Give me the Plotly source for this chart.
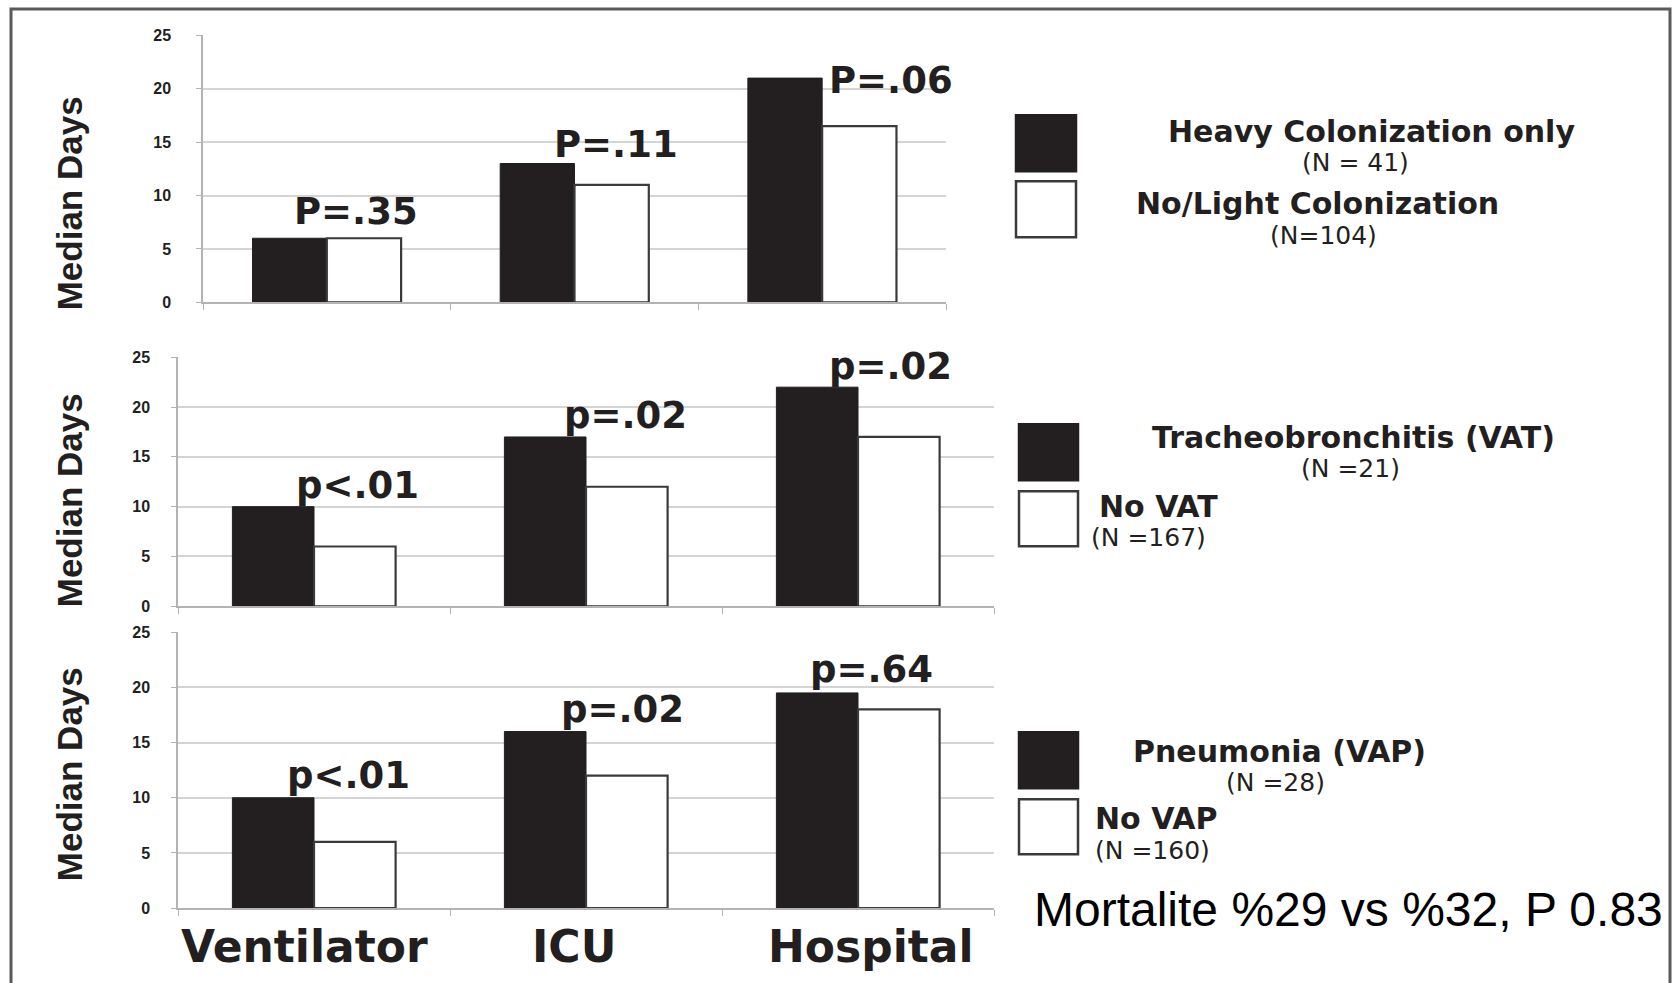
import plotly.graph_objects as go

W, H = 1673, 983

# ---- data -------------------------------------------------------------
categories = ["Ventilator", "ICU", "Hospital"]
y_ticks = [0, 5, 10, 15, 20, 25]

heavy_colonization = [6, 13, 21]
light_colonization = [6, 11, 16.5]
p_colonization = ["P=.35", "P=.11", "P=.06"]

vat = [10, 17, 22]
no_vat = [6, 12, 17]
p_vat = ["p<.01", "p=.02", "p=.02"]

vap = [10, 16, 19.5]
no_vap = [6, 12, 18]
p_vap = ["p<.01", "p=.02", "p=.64"]

legend_colonization = [("Heavy Colonization only", "(N = 41)"),
                       ("No/Light Colonization", "(N=104)")]
legend_vat = [("Tracheobronchitis (VAT)", "(N =21)"), ("No VAT", "(N =167)")]
legend_vap = [("Pneumonia (VAP)", "(N =28)"), ("No VAP", "(N =160)")]

mortality_note = "Mortalite %29 vs %32, P 0.83"
y_title = "Median Days"

# ---- styling ----------------------------------------------------------
DARK = "#231f20"
OUTLINE = "#3a3a3a"
GRID = "#d4d4d4"
AXIS = "#b3b3b3"
BOLD = "DejaVu Sans"
ARIAL = "Liberation Sans, Arial, sans-serif"

# the page is drawn with a small top offset and slight vertical squeeze;
# these two numbers convert a wanted screen row into paper coordinates
Y_OFFSET, Y_SCALE = 7.6, 0.983


def px(x):
    return x / W


def py(y):
    return 1 - (y - Y_OFFSET) / (Y_SCALE * H)


# pixel layout of each panel: plot box, p-label offsets, legend geometry
panels = [
    dict(dark=heavy_colonization, light=light_colonization, p=p_colonization,
         legend=legend_colonization,
         x0=203, x1=946, ytop=35, ybot=302, standoff=22, title_y=203,
         pshift=[(29, 27), (41, 19), (69, -2)],
         boxes=[(1016, 115, 1076, 171), (1016, 181, 1076, 237)],
         texts=[[(1371, 131, "center"), (1355, 162, "center")],
                [(1317, 203, "center"), (1323, 235, "center")]]),
    dict(dark=vat, light=no_vat, p=p_vat, legend=legend_vat,
         x0=178, x1=994, ytop=357, ybot=606, standoff=18, title_y=500,
         pshift=[(43, 21), (39, 21), (32, 21)],
         boxes=[(1019, 424, 1078, 480), (1019, 491, 1078, 546)],
         texts=[[(1353, 437, "center"), (1350, 468, "center")],
                [(1097, 506, "left"), (1089, 537, "left")]]),
    dict(dark=vap, light=no_vap, p=p_vap, legend=legend_vap,
         x0=178, x1=994, ytop=632, ybot=908, standoff=18, title_y=774,
         pshift=[(34, 22), (36, 22), (13, 23)],
         boxes=[(1019, 732, 1078, 788), (1019, 799, 1078, 854)],
         texts=[[(1279, 751, "center"), (1275, 782, "center")],
                [(1093, 818, "left"), (1093, 850, "left")]]),
]

fig = go.Figure()
annotations = []
shapes = []
layout_axes = {}

for i, pnl in enumerate(panels, start=1):
    xa, ya = f"x{i}", f"y{i}"
    fig.add_trace(go.Bar(
        x=categories, y=pnl["dark"], xaxis=xa, yaxis=ya, showlegend=False,
        marker=dict(color=DARK, line=dict(color=DARK, width=1)),
    ))
    fig.add_trace(go.Bar(
        x=categories, y=pnl["light"], xaxis=xa, yaxis=ya, showlegend=False,
        marker=dict(color="white", line=dict(color=OUTLINE, width=2.2)),
    ))

    key = "" if i == 1 else str(i)
    layout_axes[f"xaxis{key}"] = dict(
        domain=[px(pnl["x0"]), px(pnl["x1"])], anchor=ya, type="category",
        range=[-0.5, 2.5], showgrid=False, showline=True, linecolor=AXIS,
        linewidth=1.5, ticks="outside", tickson="boundaries", ticklen=6,
        tickcolor=AXIS, showticklabels=False, fixedrange=True,
    )
    layout_axes[f"yaxis{key}"] = dict(
        domain=[py(pnl["ybot"]), py(pnl["ytop"])], anchor=xa,
        range=[0, 25], tickvals=y_ticks, showgrid=True, gridcolor=GRID,
        gridwidth=2, showline=True, linecolor=AXIS, linewidth=1.5,
        zeroline=False, ticks="outside", ticklen=5, tickcolor=AXIS,
        ticklabelstandoff=pnl["standoff"],
        tickfont=dict(family=ARIAL, size=16, color=DARK, weight="bold"),
        fixedrange=True,
    )

    # p-value labels above each pair of bars
    for cat, d, l, lab, (dx, dy) in zip(categories, pnl["dark"], pnl["light"],
                                        pnl["p"], pnl["pshift"]):
        annotations.append(dict(
            x=cat, y=max(d, l), xref=xa, yref=ya, text=lab, showarrow=False,
            xanchor="center", yanchor="middle", xshift=dx, yshift=dy,
            font=dict(family=BOLD, size=37, color=DARK, weight="bold"),
        ))

    # vertical axis title
    annotations.append(dict(
        x=px(69), y=py(pnl["title_y"]), xref="paper", yref="paper",
        text=y_title, textangle=-90, showarrow=False,
        xanchor="center", yanchor="middle",
        font=dict(family=ARIAL, size=35, color=DARK, weight="bold"),
    ))

    # legend swatches and captions
    fills = [DARK, "white"]
    edges = [DARK, OUTLINE]
    for (bx0, by0, bx1, by1), fill, edge in zip(pnl["boxes"], fills, edges):
        shapes.append(dict(
            type="rect", xref="paper", yref="paper",
            x0=px(bx0), x1=px(bx1), y0=py(by1), y1=py(by0),
            fillcolor=fill, line=dict(color=edge, width=2.5),
        ))
    for (name, count), pos in zip(pnl["legend"], pnl["texts"]):
        (nx, ny, na), (cx, cy, ca) = pos
        annotations.append(dict(
            x=px(nx), y=py(ny), xref="paper", yref="paper", text=name,
            showarrow=False, xanchor=na, yanchor="middle",
            font=dict(family=BOLD, size=30, color=DARK, weight="bold"),
        ))
        annotations.append(dict(
            x=px(cx), y=py(cy), xref="paper", yref="paper", text=count,
            showarrow=False, xanchor=ca, yanchor="middle",
            font=dict(family=BOLD, size=25, color=DARK),
        ))

# category names under the bottom panel
cat_shift = [-10, -12, 13]
for cat, dx in zip(categories, cat_shift):
    annotations.append(dict(
        x=cat, y=0, xref="x3", yref="y3", text=cat, showarrow=False,
        xanchor="center", yanchor="middle", xshift=dx, yshift=-38,
        font=dict(family=BOLD, size=44, color=DARK, weight="bold"),
    ))

annotations.append(dict(
    x=px(1348), y=py(909), xref="paper", yref="paper", text=mortality_note,
    showarrow=False, xanchor="center", yanchor="middle",
    font=dict(family=ARIAL, size=48, color="black"),
))

# outer frame (bottom edge runs off the page)
shapes.append(dict(
    type="rect", xref="paper", yref="paper", x0=px(11), x1=px(1670),
    y0=-0.05, y1=min(py(8.5), 0.999), line=dict(color="#5a5a5a", width=3),
    fillcolor="rgba(0,0,0,0)", layer="below",
))

fig.update_layout(
    width=W, height=H, margin=dict(l=0, r=0, t=0, b=0),
    paper_bgcolor="white", plot_bgcolor="white",
    barmode="group", bargap=0.4, bargroupgap=0,
    annotations=annotations, shapes=shapes, showlegend=False,
    **layout_axes,
)

fig.write_html("out.html", config=dict(displayModeBar=False))
